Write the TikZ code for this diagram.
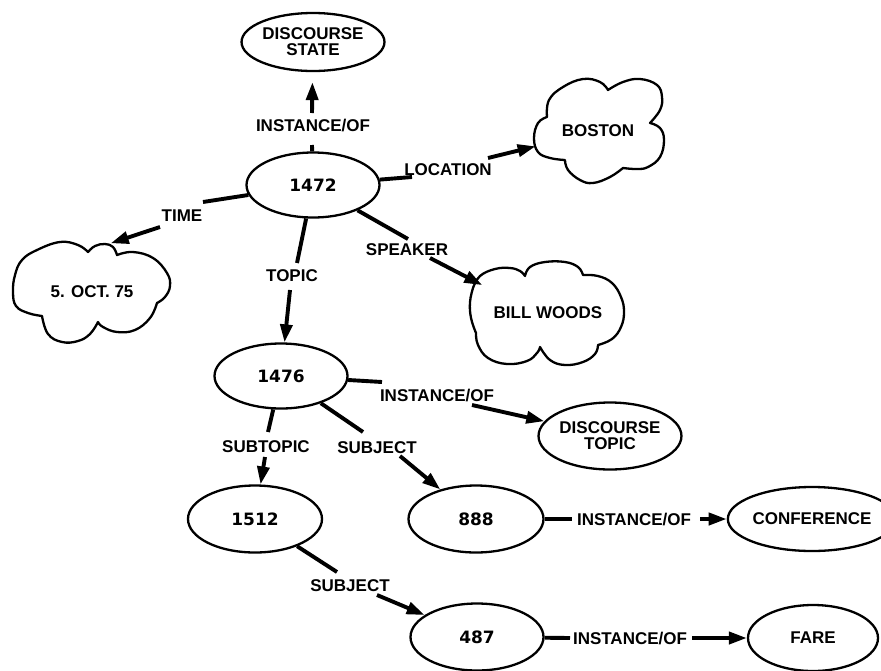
\documentclass[tikz,border=0pt]{standalone}
\usepackage{fontspec}
\setmainfont{Liberation Sans}
\newfontfamily\numfont{DejaVu Sans}
\usetikzlibrary{shapes.geometric,arrows.meta}

\begin{document}
\begin{tikzpicture}[x=1pt,y=-1pt,
  every node/.style={font=\bfseries\fontsize{17}{16}\selectfont},
  ell/.style={draw, ellipse, line width=2.3pt, inner sep=0pt,
    minimum width=133pt, minimum height=65pt, align=center},
  numell/.style={ell, font=\numfont\bfseries\fontsize{17}{16}\selectfont},
  cloudspot/.style={ellipse, inner sep=0pt},
  cloudline/.style={draw, line width=2.3pt, line join=round},
  rel/.style={line width=3.9pt},
  relarrow/.style={line width=3.9pt, -{Triangle[length=18pt,width=12pt]}},
  lbl/.style={inner sep=0pt, text height=12pt, text depth=0pt}
]
\fill[white] (0,0) rectangle (881,670);
\useasboundingbox (0,0) rectangle (881,670);

% concept nodes
\node[ell, minimum height=58pt] (ds) at (313,42) {DISCOURSE\\STATE};
\node[numell] (n1472) at (313,185) {1472};
\node[numell] (n1476) at (281,376) {1476};
\node[ell, minimum width=134pt, minimum height=67pt] (dt) at (610,436) {DISCOURSE\\TOPIC};
\node[numell, minimum width=134pt, minimum height=67pt] (n1512) at (255,519) {1512};
\node[numell, minimum width=135pt, minimum height=67pt] (n888) at (476,519) {888};
\node[ell, minimum width=129pt, minimum height=64pt] (conf) at (812,519) {CONFERENCE};
\node[numell, minimum height=67pt] (n487) at (477,637) {487};
\node[ell, minimum width=130pt, minimum height=66pt] (fare) at (813,638) {FARE};

% cloud-shaped individuals: text node plus hand-drawn outline
\node[cloudspot, minimum width=130pt, minimum height=104pt] (boston) at (598,131) {BOSTON};
\draw[cloudline]
  plot[smooth, tension=0.7] coordinates {(547,117) (549,100) (563,87) (583,79) (600,82) (608,90)}
  -- plot[smooth, tension=0.7] coordinates {(608,90) (623,82) (640,79) (657,85) (662,97) (660,110) (650,123)}
  -- plot[smooth, tension=0.7] coordinates {(650,123) (660,128) (664,140) (660,157) (648,167) (637,169) (623,168)}
  -- plot[smooth, tension=0.7] coordinates {(623,168) (610,177) (593,183) (580,180) (568,170) (565,160)}
  -- plot[smooth, tension=0.7] coordinates {(565,160) (550,158) (538,152) (534,138) (538,123) (547,117)}
  -- cycle;

\node[cloudspot, minimum width=157pt, minimum height=100pt] (oct) at (92,292) {5. OCT. 75};
\draw[cloudline]
  plot[smooth, tension=0.7] coordinates {(42,316) (28,313) (16,306) (13,292) (15,275) (22,260) (37,250) (60,242) (78,245) (88,252)}
  -- plot[smooth, tension=0.7] coordinates {(88,252) (95,246) (105,244) (113,247) (117,255)}
  -- plot[smooth, tension=0.7] coordinates {(117,255) (133,252) (153,258) (167,273) (170,286) (165,297) (157,303)}
  -- plot[smooth, tension=0.7] coordinates {(157,303) (150,318) (135,330) (117,332) (103,327) (98,322)}
  -- plot[smooth, tension=0.7] coordinates {(98,322) (90,334) (78,341) (62,342) (48,334) (42,316)}
  -- cycle;

\node[cloudspot, minimum width=155pt, minimum height=104pt] (bill) at (548,313) {BILL WOODS};
\draw[cloudline]
  plot[smooth, tension=0.7] coordinates {(473,288) (480,276) (495,269) (510,268) (520,271) (525,276)}
  -- plot[smooth, tension=0.7] coordinates {(525,276) (530,267) (545,262) (565,262) (578,267) (583,275)}
  -- plot[smooth, tension=0.7] coordinates {(583,275) (598,276) (612,283) (621,297) (624,312) (621,327) (612,339) (598,345)}
  -- plot[smooth, tension=0.7] coordinates {(598,345) (595,354) (583,362) (565,365) (550,360) (540,347)}
  -- plot[smooth, tension=0.7] coordinates {(540,347) (537,353) (527,361) (507,364) (488,358) (478,345) (476,333)}
  -- plot[smooth, tension=0.7] coordinates {(476,333) (471,318) (470,302) (473,288)}
  -- cycle;

% relation labels
\node[lbl] (l1) at (313,125) {INSTANCE/OF};
\node[lbl] (l2) at (448,169) {LOCATION};
\node[lbl] (l3) at (182,215) {TIME};
\node[lbl] (l4) at (407,249) {SPEAKER};
\node[lbl] (l5) at (292,275) {TOPIC};
\node[lbl] (l6) at (437,395) {INSTANCE/OF};
\node[lbl] (l7) at (266,446) {SUBTOPIC};
\node[lbl] (l8) at (377,447) {SUBJECT};
\node[lbl] (l9) at (350,585) {SUBJECT};
\node[lbl] (l10) at (634,519) {INSTANCE/OF};
\node[lbl] (l11) at (630,638) {INSTANCE/OF};

% where each relation line breaks around its label
\coordinate (e1a) at (312,145);  \coordinate (e1b) at (312,113);
\coordinate (e2a) at (412,177);  \coordinate (e2b) at (488,158);
\coordinate (e3a) at (203,202);  \coordinate (e3b) at (160,227);
\coordinate (e4a) at (408,239);  \coordinate (e4b) at (430,258);
\coordinate (e5a) at (297,263);  \coordinate (e5b) at (290,290);
\coordinate (e6a) at (382,382);  \coordinate (e6b) at (472,405);
\coordinate (e7a) at (268,432);  \coordinate (e7b) at (265,457);
\coordinate (e8a) at (363,432);  \coordinate (e8b) at (400,456);
\coordinate (e9a) at (337,572);  \coordinate (e9b) at (377,595);
\coordinate (e10a) at (572,519); \coordinate (e10b) at (700,519);
\coordinate (e11a) at (570,638); \coordinate (e11b) at (692,638);

% relations
\draw[rel] (n1472) -- (e1a);
\draw[relarrow, shorten >=10pt] (e1b) -- (ds);
\draw[rel] (n1472) -- (e2a);
\draw[relarrow] (e2b) -- (boston);
\draw[rel] (n1472) -- (e3a);
\draw[relarrow] (e3b) -- (oct.69);
\draw[rel] (n1472) -- (e4a);
\draw[relarrow] (e4b) -- (bill.157);
\draw[rel] (n1472) -- (e5a);
\draw[relarrow] (e5b) -- (n1476);
\draw[rel] (n1476) -- (e6a);
\draw[relarrow] (e6b) -- (dt);
\draw[rel] (n1476) -- (e7a);
\draw[relarrow] (e7b) -- (n1512);
\draw[rel] (n1476) -- (e8a);
\draw[relarrow] (e8b) -- (n888);
\draw[rel] (n1512) -- (e9a);
\draw[relarrow] (e9b) -- (n487);
\draw[rel] (n888) -- (e10a);
\draw[relarrow] (e10b) -- (conf);
\draw[rel] (n487) -- (e11a);
\draw[relarrow] (e11b) -- (fare);
\end{tikzpicture}
\end{document}
